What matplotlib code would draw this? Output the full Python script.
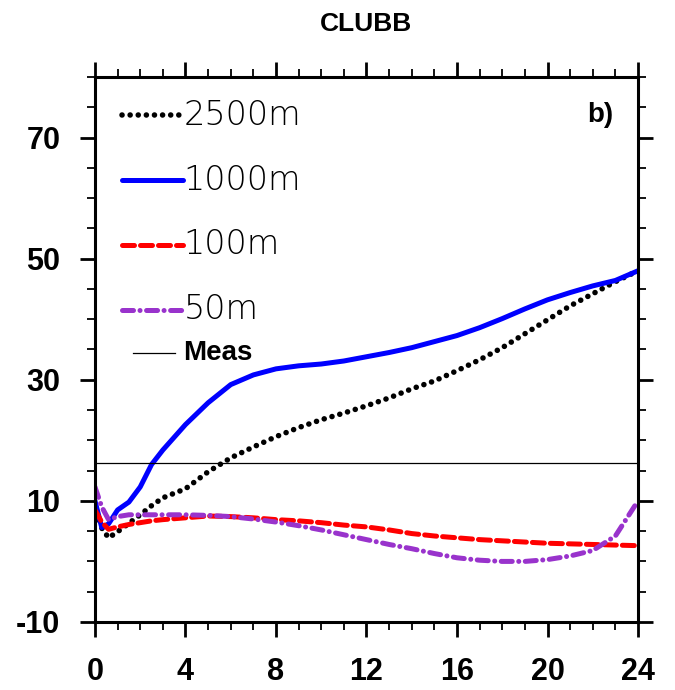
import numpy as np
import matplotlib.pyplot as plt
from matplotlib.lines import Line2D
from matplotlib.ticker import MultipleLocator

# hours since start
hours = [0, 0.3, 0.6, 1, 1.5, 2, 2.5, 3, 4, 5, 6, 7, 8, 9, 10, 11, 12,
         13, 14, 15, 16, 17, 18, 19, 20, 21, 22, 23, 24]

run_2500 = [9.3, 5.5, 3.9, 4.9, 6.3, 7.7, 9.2, 10.5, 12.0, 14.8, 17.1, 18.9, 20.6,
            22.1, 23.4, 24.5, 25.7, 27.0, 28.5, 29.8, 31.5, 33.3, 35.3, 37.6,
            39.9, 42.2, 44.2, 46.2, 48.0]
run_1000 = [10.0, 5.6, 6.2, 8.5, 9.8, 12.3, 16.0, 18.4, 22.6, 26.2, 29.2, 30.8, 31.8,
            32.3, 32.6, 33.1, 33.8, 34.5, 35.3, 36.3, 37.3, 38.6, 40.1, 41.7,
            43.2, 44.4, 45.5, 46.4, 48.0]
run_100 = [8.5, 6.5, 5.3, 5.7, 6.1, 6.4, 6.7, 6.9, 7.2, 7.5, 7.4, 7.2, 6.9,
           6.7, 6.4, 6.0, 5.7, 5.2, 4.6, 4.2, 3.9, 3.6, 3.4, 3.2, 3.0, 2.9, 2.8,
           2.7, 2.6]
run_50 = [12.3, 9.0, 6.9, 7.4, 7.7, 7.7, 7.7, 7.7, 7.7, 7.6, 7.4, 7.0, 6.5,
          5.9, 5.2, 4.4, 3.6, 2.8, 2.1, 1.3, 0.6, 0.2, 0.0, 0.0, 0.3, 0.9, 1.8,
          4.2, 10.0]
meas = 16.3

labels = ['2500m', '1000m', '100m', '50m']
colors = ['black', 'blue', 'red', '#9933cc']
styles = [(0, (0.01, 1.45)), '-', (0, (2.4, 1.2)), (0, (2.2, 1.3, 0.01, 1.3))]
widths = [4.0, 3.6, 3.6, 3.6]

plt.rcParams['font.family'] = ['Liberation Sans', 'DejaVu Sans']
plt.rcParams['axes.unicode_minus'] = False

fig = plt.figure(figsize=(6.75, 6.9), dpi=100)
ax = fig.add_axes([0.1407, 0.0986, 0.8045, 0.7898])

series = [run_2500, run_1000, run_100, run_50]
for vals, c, ls, lw in zip(series, colors, styles, widths):
    ax.plot(hours, vals, color=c, linestyle=ls, linewidth=lw,
            dash_capstyle='round', solid_capstyle='round')
ax.axhline(meas, color='black', linewidth=0.9)

ax.set_xlim(0, 24)
ax.set_ylim(-10, 80)
ax.set_xticks([0, 4, 8, 12, 16, 20, 24])
ax.set_yticks([-10, 10, 30, 50, 70])
ax.xaxis.set_minor_locator(MultipleLocator(1))
ax.yaxis.set_minor_locator(MultipleLocator(5))
ax.tick_params(which='both', direction='out', top=True, right=True, width=2)
ax.tick_params(which='major', length=11, labelsize=22, pad=14)
ax.tick_params(which='minor', length=6, width=1.3)
for lab in ax.get_xticklabels() + ax.get_yticklabels():
    lab.set_fontweight('bold')
for sp in ax.spines.values():
    sp.set_linewidth(2.2)

ax.set_title('CLUBB', fontsize=19, fontweight='bold', pad=33)
ax.text(0.955, 0.93, 'b)', transform=ax.transAxes, fontsize=20,
        fontweight='bold', ha='right', va='center')

# hand-built key in the upper left
rows = [0.930, 0.811, 0.692, 0.573]
for lab, c, ls, lw, yy in zip(labels, colors, styles, widths, rows):
    ax.add_line(Line2D([0.05, 0.163], [yy, yy], transform=ax.transAxes,
                       color=c, linestyle=ls, linewidth=lw,
                       dash_capstyle='round', solid_capstyle='round'))
    ax.text(0.163, yy, lab, transform=ax.transAxes, fontsize=24,
            fontfamily='DejaVu Sans', fontweight='light', va='center', ha='left')
ax.add_line(Line2D([0.07, 0.148], [0.493, 0.493], transform=ax.transAxes,
                   color='black', linewidth=0.9))
ax.text(0.163, 0.493, 'Meas', transform=ax.transAxes, fontsize=20,
        fontweight='bold', va='center', ha='left')

fig.savefig('out.png', dpi=100)
